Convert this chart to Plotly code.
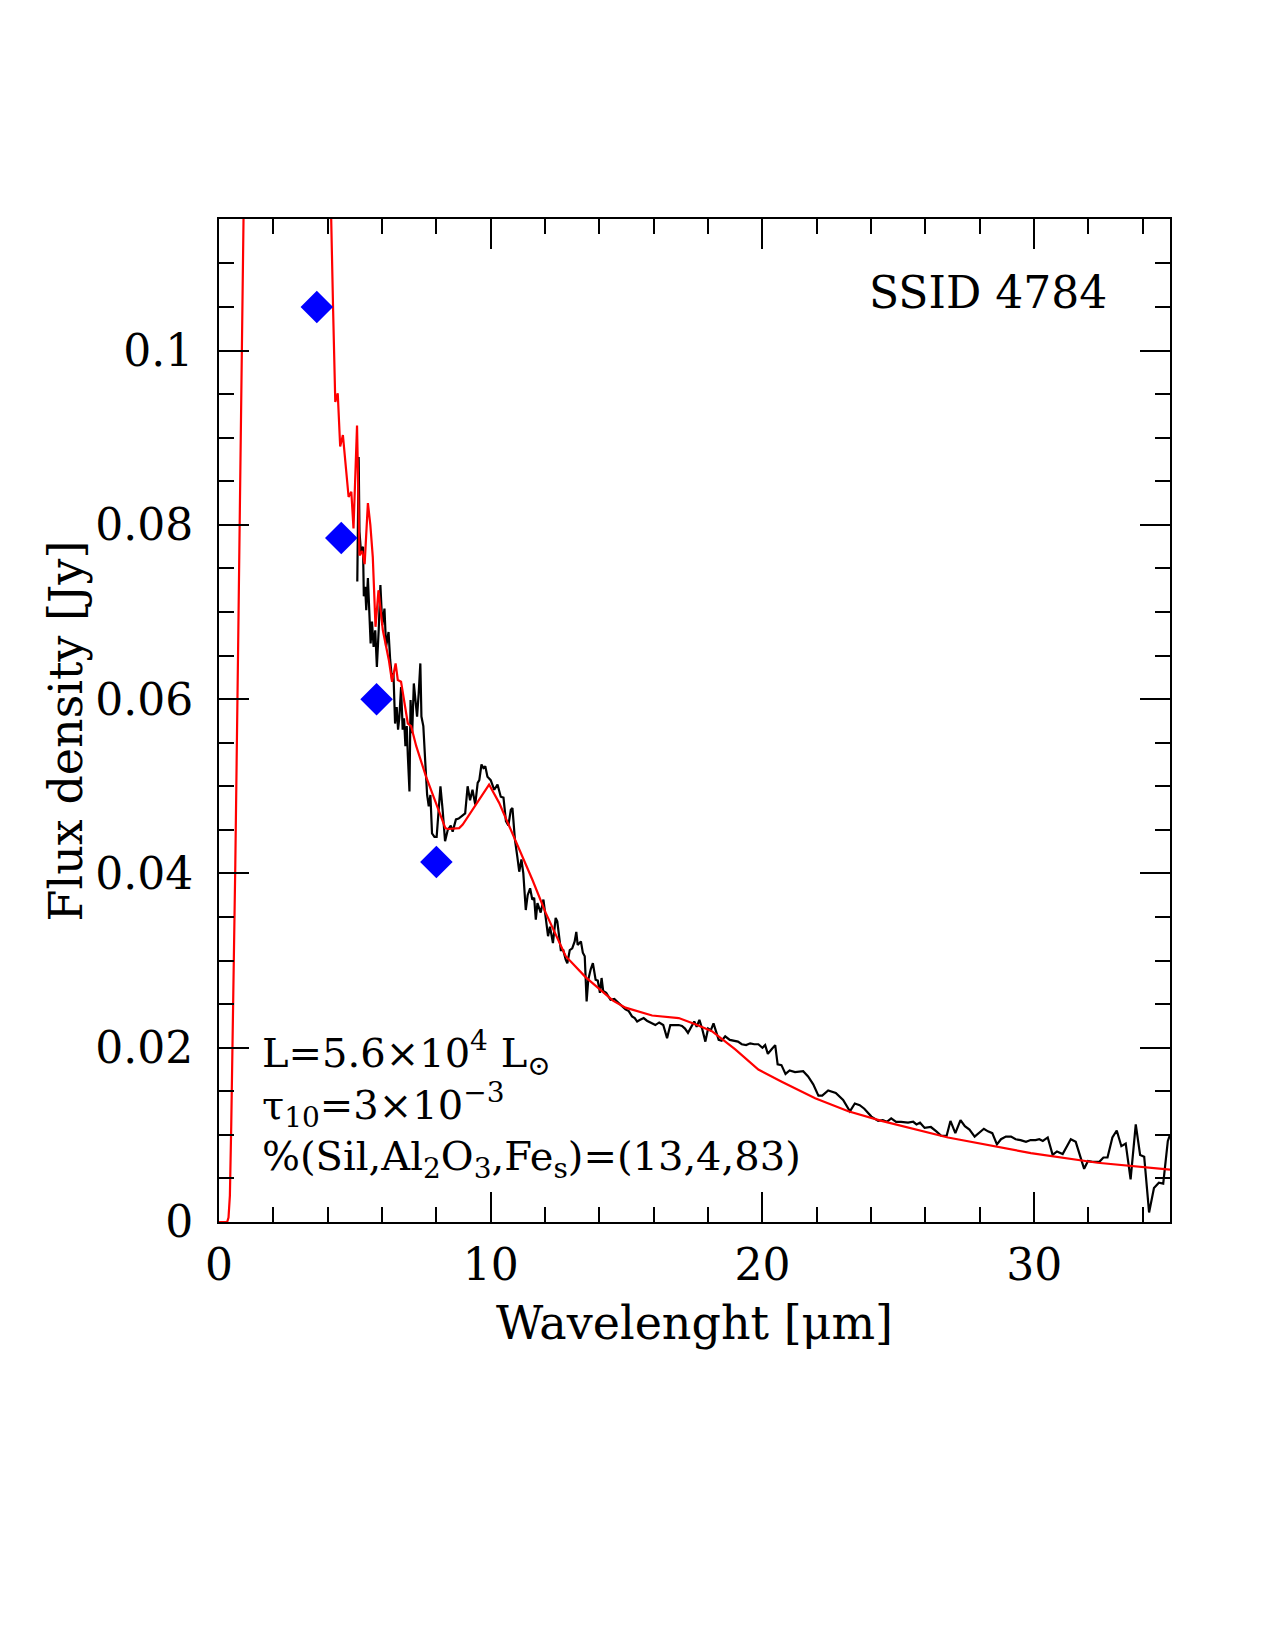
import plotly.graph_objects as go

# Observed spectrum (black)
obs_x = [5.09, 5.14, 5.17, 5.23, 5.30, 5.33, 5.38, 5.42, 5.48, 5.54, 5.58, 5.63, 5.69, 5.75, 5.81, 5.88,
         5.94, 6.01, 6.09, 6.15, 6.24, 6.30, 6.37, 6.42, 6.48, 6.54, 6.59, 6.64, 6.70, 6.76, 6.81, 6.86,
         6.91, 6.95, 7.01, 7.05, 7.11, 7.17, 7.23, 7.29, 7.35, 7.41, 7.45, 7.52, 7.60, 7.66, 7.72, 7.78,
         7.84, 7.93, 8.01, 8.08, 8.15, 8.23, 8.32, 8.42, 8.53, 8.60, 8.72, 8.82, 8.97, 9.06, 9.15, 9.24,
         9.33, 9.43, 9.52, 9.58, 9.66, 9.73, 9.80, 9.88, 10.00, 10.13, 10.25, 10.37, 10.47, 10.56, 10.65,
         10.74, 10.80, 10.89, 10.98, 11.05, 11.13, 11.20, 11.29, 11.36, 11.45, 11.53, 11.60, 11.66, 11.72,
         11.78, 11.84, 11.94, 12.02, 12.11, 12.18, 12.29, 12.39, 12.45, 12.58, 12.67, 12.76, 12.82, 12.91,
         13.00, 13.09, 13.15, 13.20, 13.25, 13.32, 13.39, 13.46, 13.53, 13.59, 13.68, 13.76, 13.86, 13.94,
         14.02, 14.08, 14.14, 14.25, 14.41, 14.55, 14.65, 14.78, 14.96, 15.08, 15.20, 15.30, 15.39, 15.50,
         15.63, 15.75, 15.82, 15.94, 16.06, 16.20, 16.35, 16.49, 16.61, 16.80, 16.92, 17.04, 17.15, 17.26,
         17.38, 17.49, 17.58, 17.68, 17.78, 17.90, 18.00, 18.10, 18.20, 18.30, 18.39, 18.50, 18.63, 18.80,
         18.95, 19.10, 19.24, 19.40, 19.55, 19.70, 19.85, 20.00, 20.10, 20.20, 20.33, 20.47, 20.56, 20.70,
         20.85, 21.00, 21.20, 21.50, 21.68, 21.87, 22.06, 22.20, 22.42, 22.70, 22.97, 23.22, 23.40, 23.58,
         23.75, 24.01, 24.26, 24.43, 24.58, 24.74, 24.92, 25.10, 25.36, 25.55, 25.67, 25.80, 25.97, 26.20,
         26.40, 26.58, 26.78, 26.92, 27.10, 27.29, 27.45, 27.62, 27.81, 27.98, 28.15, 28.30, 28.46, 28.63,
         28.78, 28.96, 29.15, 29.32, 29.50, 29.70, 29.87, 30.05, 30.19, 30.32, 30.50, 30.68, 30.84, 31.05,
         31.20, 31.35, 31.53, 31.66, 31.84, 31.98, 32.15, 32.40, 32.55, 32.70, 32.88, 33.04, 33.21, 33.37,
         33.55, 33.74, 33.90, 34.05, 34.23, 34.41, 34.59, 34.75, 34.92, 35.0]
obs_y = [0.0735, 0.0878, 0.0792, 0.0767, 0.0775, 0.0718, 0.0729, 0.0702, 0.0739, 0.0695, 0.0664, 0.0689,
         0.0660, 0.0679, 0.0637, 0.0681, 0.0731, 0.0685, 0.0704, 0.0660, 0.0677, 0.0645, 0.0622, 0.0630,
         0.0572, 0.0591, 0.0565, 0.0580, 0.0614, 0.0565, 0.0578, 0.0546, 0.0569, 0.0535, 0.0494, 0.0599,
         0.0561, 0.0618, 0.0599, 0.0580, 0.0607, 0.0641, 0.0580, 0.0569, 0.0523, 0.0490, 0.0477, 0.0490,
         0.0446, 0.0442, 0.0442, 0.0473, 0.0500, 0.0473, 0.0437, 0.0450, 0.0455, 0.0448, 0.0462, 0.0463,
         0.0467, 0.0469, 0.0500, 0.0484, 0.0496, 0.0479, 0.0504, 0.0507, 0.0525, 0.0521, 0.0523, 0.0511,
         0.0507, 0.0496, 0.0502, 0.0488, 0.0487, 0.0460, 0.0455, 0.0473, 0.0475, 0.0439, 0.0419, 0.0402,
         0.0416, 0.0400, 0.0358, 0.0375, 0.0383, 0.0370, 0.0372, 0.0347, 0.0366, 0.0360, 0.0355, 0.0370,
         0.0351, 0.0328, 0.0339, 0.0320, 0.0349, 0.0345, 0.0312, 0.0312, 0.0301, 0.0297, 0.0312, 0.0314,
         0.0322, 0.0333, 0.0318, 0.0320, 0.0322, 0.0309, 0.0305, 0.0253, 0.0278, 0.0290, 0.0297, 0.0278,
         0.0277, 0.0263, 0.0280, 0.0265, 0.0263, 0.0255, 0.0256, 0.0253, 0.0249, 0.0244, 0.0242, 0.0236,
         0.0234, 0.0230, 0.0232, 0.0234, 0.0231, 0.0230, 0.0228, 0.0226, 0.0229, 0.0226, 0.0211, 0.0226,
         0.0226, 0.0226, 0.0225, 0.0222, 0.0217, 0.0224, 0.0230, 0.0224, 0.0232, 0.0222, 0.0207, 0.0222,
         0.0220, 0.0228, 0.0218, 0.0209, 0.0208, 0.0213, 0.0209, 0.0208, 0.0207, 0.0204, 0.0203, 0.0205,
         0.0204, 0.0204, 0.0200, 0.0203, 0.0193, 0.0198, 0.0203, 0.0181, 0.0180, 0.0170, 0.0174, 0.0172,
         0.0173, 0.0167, 0.0158, 0.0145, 0.0145, 0.0151, 0.0148, 0.0140, 0.0127, 0.0136, 0.0134, 0.0130,
         0.0121, 0.0116, 0.0117, 0.0115, 0.0119, 0.0115, 0.0115, 0.0114, 0.0115, 0.0112, 0.0114, 0.0108,
         0.0109, 0.0104, 0.0099, 0.0099, 0.0116, 0.0102, 0.0117, 0.0110, 0.0106, 0.0098, 0.0102, 0.0107,
         0.0104, 0.0102, 0.0089, 0.0095, 0.0098, 0.0098, 0.0095, 0.0094, 0.0092, 0.0094, 0.0094, 0.0095,
         0.0093, 0.0097, 0.0077, 0.0081, 0.0078, 0.0087, 0.0095, 0.0092, 0.0080, 0.0061, 0.0070, 0.0069,
         0.0069, 0.0074, 0.0074, 0.0097, 0.0105, 0.0087, 0.0090, 0.0049, 0.0112, 0.0077, 0.0075, 0.0011,
         0.0039, 0.0045, 0.0044, 0.0093, 0.0100]

# Model SED (red)
mod_x = [0.0, 0.3, 0.35, 0.4, 0.45, 0.5, 0.55, 0.6, 0.7, 0.8, 0.9, 1.0, 1.25, 1.65, 2.2, 3.0, 3.6,
         4.13, 4.20, 4.28, 4.37, 4.46, 4.56, 4.77, 4.87, 4.95, 5.08, 5.17, 5.27, 5.36, 5.48, 5.57, 5.66,
         5.76, 5.87, 6.03, 6.25, 6.37, 6.50, 6.58, 6.70, 6.95, 7.07, 7.26, 7.62, 7.99, 8.33, 8.42, 8.84,
         8.97, 9.94, 10.31, 10.80, 11.23, 11.53, 12.02, 12.76, 13.49, 14.50, 14.96, 15.94, 16.92, 17.53,
         18.14, 19.00, 19.85, 20.71, 21.94, 23.16, 24.38, 26.83, 29.88, 32.33, 35.0]
mod_y = [0.0, 0.0, 0.0005, 0.003, 0.011, 0.020, 0.030, 0.041, 0.065, 0.090, 0.118, 0.150, 0.25, 0.30,
         0.26, 0.17, 0.135, 0.1150, 0.1046, 0.0941, 0.0951, 0.0890, 0.0903, 0.0832, 0.0838, 0.0796,
         0.0914, 0.0765, 0.0770, 0.0755, 0.0825, 0.0800, 0.0763, 0.0683, 0.0725, 0.0679, 0.0645, 0.0620,
         0.0641, 0.0622, 0.0620, 0.0572, 0.0569, 0.0546, 0.0511, 0.0481, 0.0452, 0.0451, 0.0452, 0.0456,
         0.0502, 0.0481, 0.0446, 0.0416, 0.0393, 0.0355, 0.0305, 0.0281, 0.0254, 0.0246, 0.0237, 0.0234,
         0.0227, 0.0219, 0.0198, 0.0175, 0.0161, 0.0142, 0.0127, 0.0116, 0.0097, 0.0079, 0.0068, 0.0060]

# Photometry (blue diamonds)
phot_x = [3.6, 4.5, 5.8, 8.0]
phot_y = [0.105, 0.0785, 0.0600, 0.0413]

x_ticks = [0, 10, 20, 30]
x_tick_labels = ["0", "10", "20", "30"]
y_ticks = [0, 0.02, 0.04, 0.06, 0.08, 0.1]
y_tick_labels = ["0", "0.02", "0.04", "0.06", "0.08", "0.1"]

FONT = "DejaVu Serif"

fig = go.Figure()
fig.add_trace(go.Scatter(x=obs_x, y=obs_y, mode="lines",
                         line=dict(color="black", width=2.2), showlegend=False))
fig.add_trace(go.Scatter(x=mod_x, y=mod_y, mode="lines",
                         line=dict(color="#ff0000", width=2.2), showlegend=False))
fig.add_trace(go.Scatter(x=phot_x, y=phot_y, mode="markers",
                         marker=dict(symbol="diamond", size=25, color="#0000ff",
                                     line=dict(width=0)), showlegend=False))

axis_common = dict(showline=True, linecolor="black", linewidth=2, mirror="allticks",
                   ticks="inside", tickcolor="black", tickwidth=2, ticklen=30,
                   showgrid=False, zeroline=False,
                   tickfont=dict(family=FONT, size=44, color="black"))

fig.update_xaxes(range=[0, 35], tickvals=x_ticks, ticktext=x_tick_labels,
                 minor=dict(dtick=2, tick0=0, ticks="inside", ticklen=15, tickwidth=2,
                            tickcolor="black", showgrid=False),
                 ticklabelstandoff=3, **axis_common)
fig.update_yaxes(range=[0, 0.1151], tickvals=y_ticks, ticktext=y_tick_labels,
                 minor=dict(dtick=0.005, tick0=0, ticks="inside", ticklen=15, tickwidth=2,
                            tickcolor="black", showgrid=False),
                 ticklabelstandoff=15, **axis_common)

anns = [
    dict(text="SSID 4784", x=32.77, y=0.1067, xref="x", yref="y", xanchor="right",
         yanchor="middle", font=dict(family=FONT, size=44, color="black")),
    dict(text="L=5.6×10<sup>4</sup> L<sub>⊙</sub>", x=1.50, y=0.0194, xref="x", yref="y",
         xanchor="left", yanchor="middle", font=dict(family=FONT, size=40, color="black")),
    dict(text="τ<sub>10</sub>=3×10<sup>−3</sup>", x=1.50, y=0.0134, xref="x", yref="y",
         xanchor="left", yanchor="middle", font=dict(family=FONT, size=40, color="black")),
    dict(text="%(Sil,Al<sub>2</sub>O<sub>3</sub>,Fe<sub>s</sub>)=(13,4,83)", x=1.50, y=0.0072,
         xref="x", yref="y", xanchor="left", yanchor="middle",
         font=dict(family=FONT, size=40, color="black")),
    dict(text="Wavelenght [μm]", x=0.5, y=-0.101, xref="paper", yref="paper",
         xanchor="center", yanchor="middle", font=dict(family=FONT, size=46, color="black")),
    dict(text="Flux density [Jy]", x=-0.161, y=0.49, xref="paper", yref="paper", textangle=-90,
         xanchor="center", yanchor="middle", font=dict(family=FONT, size=46, color="black")),
]
for a in anns:
    a["showarrow"] = False
    fig.add_annotation(**a)

fig.update_layout(width=1275, height=1650, margin=dict(l=219, r=105, t=219, b=428),
                  plot_bgcolor="white", paper_bgcolor="white", showlegend=False)

fig.write_html("out.html")
